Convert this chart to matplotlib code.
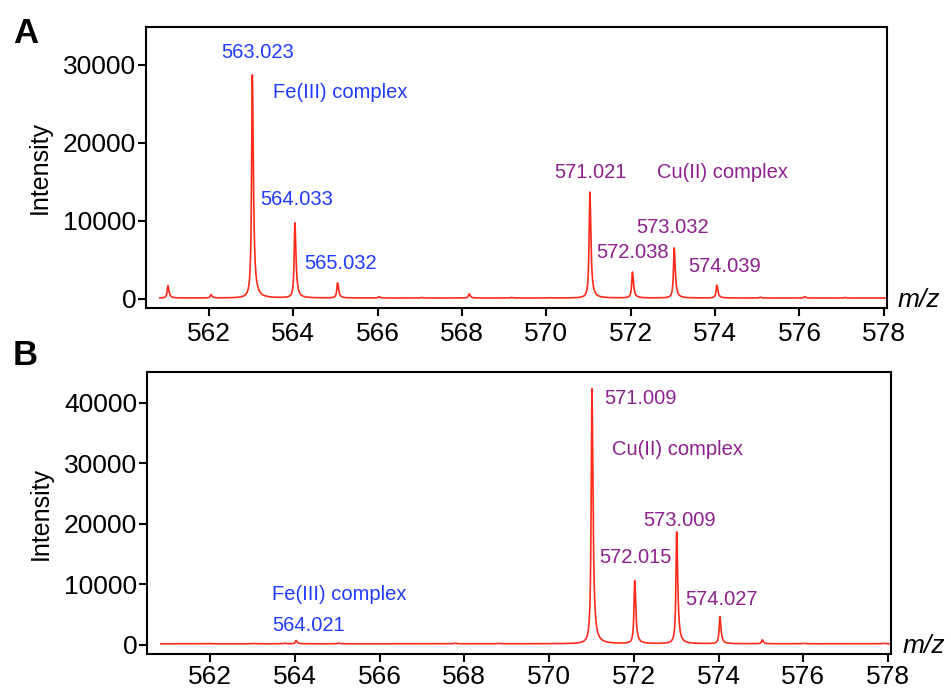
import numpy as np
import matplotlib.pyplot as plt

plt.rcParams['font.family'] = ['Liberation Sans', 'DejaVu Sans']

# peaks: (m/z, intensity)
a_mz = [561.03, 562.05, 563.03, 564.04, 565.05, 566.03, 567.04, 568.17, 569.17,
        570.10, 571.03, 572.04, 573.03, 574.04, 575.07, 576.12, 577.08]
a_int = [1700, 550, 28800, 9750, 2050, 280, 120, 650, 150,
         80, 13700, 3450, 6550, 1750, 200, 300, 150]
a_base = 120

b_mz = [562.0, 563.02, 563.75, 564.03, 565.03, 567.78, 568.8, 571.01, 572.02,
        573.01, 574.03, 575.03, 576.0, 577.9]
b_int = [100, 150, 200, 750, 250, 200, 100, 42400, 10600,
         18700, 4700, 850, 120, 150]
b_base = 200

a_labels = [('563.023', 563.16, 31600, 'center', 'blue'),
            ('Fe(III) complex', 563.52, 26500, 'left', 'blue'),
            ('564.033', 563.23, 12700, 'left', 'blue'),
            ('565.032', 564.27, 4600, 'left', 'blue'),
            ('571.021', 571.04, 16200, 'center', 'purple'),
            ('Cu(II) complex', 572.63, 16250, 'left', 'purple'),
            ('572.038', 571.18, 5900, 'left', 'purple'),
            ('573.032', 572.13, 9100, 'left', 'purple'),
            ('574.039', 573.36, 4100, 'left', 'purple')]

b_labels = [('571.009', 571.31, 40800, 'left', 'purple'),
            ('Cu(II) complex', 571.48, 32300, 'left', 'purple'),
            ('573.009', 572.21, 20600, 'left', 'purple'),
            ('572.015', 571.19, 14400, 'left', 'purple'),
            ('574.027', 573.22, 7500, 'left', 'purple'),
            ('Fe(III) complex', 563.47, 8350, 'left', 'blue'),
            ('564.021', 563.47, 3300, 'left', 'blue')]

colors = {'blue': '#1f3bff', 'purple': '#8e1f8e'}


def spectrum(x, centers, heights, base):
    # narrow peaks with a slight tail on the high-mass side
    y = np.full_like(x, base, dtype=float)
    for c, h in zip(centers, heights):
        d = x - c
        w = np.where(d < 0, 0.02, 0.03)
        y += max(h - base, h * 0.5) / (1 + (d / w) ** 2)
    return y


x = np.linspace(560.84, 578.07, 6000)

fig = plt.figure(figsize=(9.51, 6.92), dpi=100)
ax_a = fig.add_axes([0.1535, 0.555, 0.779, 0.406])
ax_b = fig.add_axes([0.1545, 0.0549, 0.7825, 0.4075])

panels = [(ax_a, a_mz, a_int, a_base, a_labels, (-1150, 34870), [0, 10000, 20000, 30000], 4),
          (ax_b, b_mz, b_int, b_base, b_labels, (-1490, 45120), [0, 10000, 20000, 30000, 40000], 2)]

for ax, mz, inten, base, labels, ylim, yt, xpad in panels:
    ax.plot(x, spectrum(x, mz, inten, base), color='#ff2a1a', lw=1.2)
    ax.set_xlim(560.51, 578.07)
    ax.set_ylim(*ylim)
    ax.set_xticks(np.arange(562, 579, 2))
    ax.set_yticks(yt)
    ax.tick_params(labelsize=19, width=1.5, length=6, direction='out')
    ax.tick_params(axis='y', pad=1)
    ax.tick_params(axis='x', pad=xpad)
    for s in ax.spines.values():
        s.set_linewidth(1.5)
    ax.set_ylabel('Intensity', fontsize=18, labelpad=8)
    for txt, tx, ty, ha, c in labels:
        ax.text(tx, ty, txt, ha=ha, va='center', fontsize=14.5, color=colors[c])
    ax.text(1.015, 0.03, 'm/z', transform=ax.transAxes, fontsize=19, style='italic',
            ha='left', va='center')

fig.text(0.027, 0.951, 'A', fontsize=25, fontweight='bold', ha='center', va='center')
fig.text(0.027, 0.486, 'B', fontsize=25, fontweight='bold', ha='center', va='center')

fig.savefig('out.png', dpi=100)
